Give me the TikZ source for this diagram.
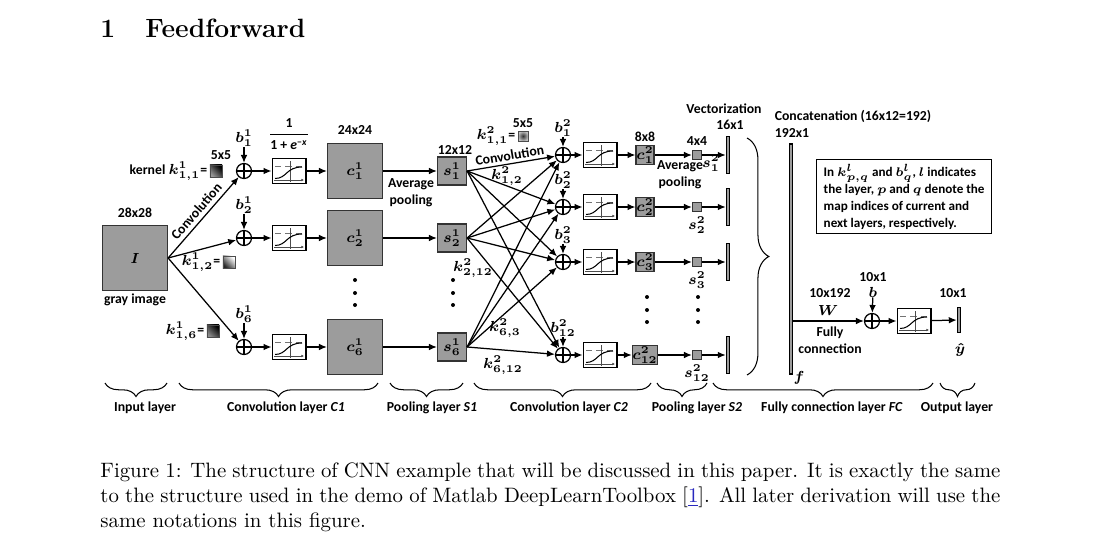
\documentclass[tikz,border=0pt]{standalone}
\usepackage{amsmath,amssymb}
\usepackage{fontspec}
\newfontfamily\figfont{Carlito}
\usepackage{tikz}
\usetikzlibrary{positioning,calc,arrows.meta,decorations.pathreplacing}

\definecolor{mapgray}{RGB}{156,156,156}
\definecolor{citeblue}{RGB}{40,40,190}
\newcommand{\figtext}{\figfont\bfseries\fontsize{6.6}{8.2}\selectfont\boldmath}

\begin{document}
\begin{tikzpicture}[
    x=0.48pt, y=-0.48pt,
    lbl/.style={inner sep=0pt, font=\figtext},
    fmap/.style={draw=black!80, line width=.6pt, fill=mapgray, inner sep=0pt, font=\figtext},
    sumnode/.style={circle, draw, line width=.6pt, minimum size=7.2pt, inner sep=0pt,
        path picture={\draw[line width=.6pt]
            (path picture bounding box.north) -- (path picture bounding box.south)
            (path picture bounding box.west) -- (path picture bounding box.east);}},
    actbox/.style={draw, line width=.5pt, fill=white, minimum width=16.3pt,
        minimum height=12pt, inner sep=0pt,
        path picture={
            \begin{scope}[shift={(path picture bounding box.center)}]
            \draw[black!55, densely dashed, line width=.3pt] (-14,-5) -- (14,-5);
            \draw[black!70, line width=.3pt, -{Latex[length=1.3pt,width=1.3pt]}] (-15,9) -- (15,9);
            \draw[black!70, line width=.3pt] (1,11) -- (1,-10);
            \draw[line width=.5pt] (-14,7.5) .. controls (-2,7.5) and (-3,-4) .. (13,-4);
            \end{scope}}},
    vbar/.style={draw=black, fill=mapgray, line width=.6pt, minimum width=1.6pt, inner sep=0pt},
    kerbox/.style={draw=black!70, line width=.3pt, minimum size=5.8pt, inner sep=0pt},
    conn/.style={-{Latex[length=3.8pt,width=3.2pt]}, line width=.6pt},
    layerbrace/.style={decorate, decoration={brace, amplitude=6.5pt}, line width=.5pt}
]
\useasboundingbox (0,0) rectangle (1104,551);

% heading
\node[font=\fontsize{12.7}{15}\selectfont\bfseries, anchor=base west, inner sep=0pt] (secnum) at (100,37) {1};
\node[font=\fontsize{12.7}{15}\selectfont\bfseries, anchor=base west, inner sep=0pt] (sectitle) at (145,37) {Feedforward};

% input layer
\node[fmap, minimum size=31.2pt] (img) at (135,258) {$I$};
\node[lbl] (imgsize) at (135,213) {28x28};
\node[lbl] (imgname) at (135,300) {gray image};

% convolution layer C1
\foreach \r/\y/\i in {1/171/1, 2/238/2, 3/347/6} {
    \node[sumnode] (sumA\r) at (244,\y) {};
    \node[lbl] (bA\r) at (244,\y-33) {$b^1_{\i}$};
    \node[actbox] (actA\r) at (289,\y) {};
    \node[fmap, minimum size=26.4pt] (cA\r) at (355,\y) {$c^1_{\i}$};
    \node[fmap, minimum width=13.9pt, minimum height=13.4pt] (sA\r) at (452,\y) {$s^1_{\i}$};
    \draw[conn] (img.east) -- (sumA\r);
    \draw[conn] (bA\r) -- (sumA\r);
    \draw[conn] (sumA\r) -- (actA\r);
    \draw[conn] (actA\r) -- (cA\r);
    \draw[conn] (cA\r) -- (sA\r);
}
\path (img.east) -- node[lbl, sloped, above=2pt] (convA) {Convolution} (sumA1);
\node[lbl] (sigma) at (289,134)
    {$\dfrac{\text{1}}{\text{1 + \textit{e}}^{\text{−\textit{x}}}}$};
\node[lbl] (csize) at (355,130) {24x24};
\node[kerbox, left color=black, right color=black!40, shading angle=-45] (ker11) at (216,171) {};
\node[kerbox, left color=white, right color=black!85, shading angle=-45] (ker12) at (229,262) {};
\node[kerbox, left color=black, right color=black!45, shading angle=-45] (ker16) at (213,331) {};
\node[lbl, left=1pt of ker11] (kerlbl11) {kernel $k^1_{1,1}$=};
\node[lbl, left=1pt of ker12] (kerlbl12) {$k^1_{1,2}$=};
\node[lbl, left=1pt of ker16] (kerlbl16) {$k^1_{1,6}$=};
\node[lbl] (kersize1) at (221,155) {5x5};
\foreach \y in {280,293,305} \fill (355,\y) circle (2);

% pooling layer S1
\node[lbl] (ssize1) at (455,150) {12x12};
\node[lbl, align=center] (poolA) at (411,193) {Average\\pooling};
\foreach \y in {280,293,305} \fill (453,\y) circle (2);

% convolution layer C2
\foreach \r/\y/\j in {1/155/1, 2/207/2, 3/262/3, 4/355/12} {
    \node[sumnode] (sumB\r) at (563,\y) {};
    \node[lbl] (bB\r) at (563,\y-27) {$b^2_{\j}$};
    \node[actbox] (actB\r) at (600,\y) {};
    \node[fmap, minimum width=8.6pt, minimum height=9.1pt] (cB\r) at (645,\y) {$c^2_{\j}$};
    \node[fmap, minimum size=4.3pt] (sB\r) at (697,\y) {};
    \node[vbar, minimum height=17.8pt] (vB\r) at (728,\y) {};
    \draw[conn] (bB\r) -- (sumB\r);
    \draw[conn] (sumB\r) -- (actB\r);
    \draw[conn] (actB\r) -- (cB\r);
    \draw[conn] (cB\r) -- (sB\r);
    \draw[conn] (sB\r) -- (vB\r);
}
\foreach \a in {1,2,3}
    \foreach \b in {1,...,4}
        \draw[conn] (sA\a.east) -- (sumB\b);
\path (sA1.east) -- node[lbl, sloped, above=1.5pt] (convB) {Convolution} (sumB1);
\node[kerbox, minimum size=4.8pt, inner color=black!80, outer color=black!25] (ker21) at (523,136) {};
\node[lbl, left=1pt of ker21] (kerlbl21) {$k^2_{1,1}$=};
\node[lbl] (kersize2) at (523,123) {5x5};
\node[lbl] (k12) at (507,176) {$k^2_{1,2}$};
\node[lbl] (k212) at (473,268) {$k^2_{2,12}$};
\node[lbl] (k63) at (505,328) {$k^2_{6,3}$};
\node[lbl] (k612) at (503,365) {$k^2_{6,12}$};
\node[lbl] (csize2) at (645,137) {8x8};
\foreach \y in {297,310,322} {
    \fill (647,\y) circle (2);
    \fill (698,\y) circle (2);
}

% pooling layer S2
\node[lbl] (ssize2) at (697,141) {4x4};
\node[lbl, align=center] (poolB) at (680,175) {Average\\pooling};
\node[lbl] (slbl1) at (711,163) {$s^2_{1}$};
\node[lbl, below=2pt of sB2] (slbl2) {$s^2_{2}$};
\node[lbl, below=2pt of sB3] (slbl3) {$s^2_{3}$};
\node[lbl, below=2pt of sB4] (slbl4) {$s^2_{12}$};
\node[lbl] (vecname) at (724,109) {Vectorization};
\node[lbl] (vecsize) at (730,125) {16x1};

% fully connection layer FC
\draw[line width=.5pt, decorate, decoration={brace, amplitude=10.5pt}] (747,138) -- (747,375);
\node[vbar, minimum height=110.4pt] (fbar) at (791,259) {};
\node[lbl] (concat) at (853,116) {Concatenation (16x12=192)};
\node[lbl] (fsize) at (792,133) {192x1};
\node[lbl] (flbl) at (799,378) {$f$};
\node[draw, line width=.6pt, anchor=north west, align=left, minimum width=84pt,
      minimum height=35.5pt, inner xsep=1.5pt, inner ysep=2pt,
      font=\figfont\bfseries\fontsize{6.3}{8.2}\selectfont\boldmath] (note) at (816,159)
    {In $k^l_{p,q}$ and $b^l_q$, $l$ indicates\\the layer, $p$ and $q$ denote the\\map indices of current and\\next layers, respectively.};
\node[sumnode] (sumC) at (872,321) {};
\node[lbl] (bC) at (873,292) {$b$};
\node[lbl] (bsize) at (873,277) {10x1};
\node[actbox] (actC) at (914,321) {};
\node[vbar, minimum height=12pt] (ybar) at (959,320) {};
\node[lbl] (wsize) at (830,293) {10x192};
\node[lbl] (wlbl) at (828,310) {$W$};
\node[lbl, align=center] (fcname) at (830,340) {Fully\\connection};
\node[lbl] (ysize) at (953,293) {10x1};
\node[lbl] (ylbl) at (960,350) {$\hat{y}$};
\draw[conn] (fbar.east |- sumC) -- (sumC);
\draw[conn] (bC) -- (sumC);
\draw[conn] (sumC) -- (actC);
\draw[conn] (actC) -- (ybar);

% layer braces
\foreach \a/\b/\xm/\t [count=\n] in {105/167/145/{Input layer},
        179/378/286/{Convolution layer \textit{C1}},
        390/463/432/{Pooling layer \textit{S1}},
        474/651/569/{Convolution layer \textit{C2}},
        657/707/697/{Pooling layer \textit{S2}},
        713/933/832/{Fully connection layer \textit{FC}},
        940/975/957/{Output layer}} {
    \draw[layerbrace] (\b,383) -- (\a,383);
    \node[lbl] (layer\n) at (\xm,408) {\t};
}

% caption
\node[anchor=north west, text width=432pt, align=justify, inner sep=0pt] (caption) at (100,462.5)
    {Figure 1: The structure of CNN example that will be discussed in this paper. It is exactly the same
     to the structure used in the demo of Matlab DeepLearnToolbox [{\color{citeblue}\underline{1}}]. All later derivation will use the
     same notations in this figure.};
\end{tikzpicture}
\end{document}
